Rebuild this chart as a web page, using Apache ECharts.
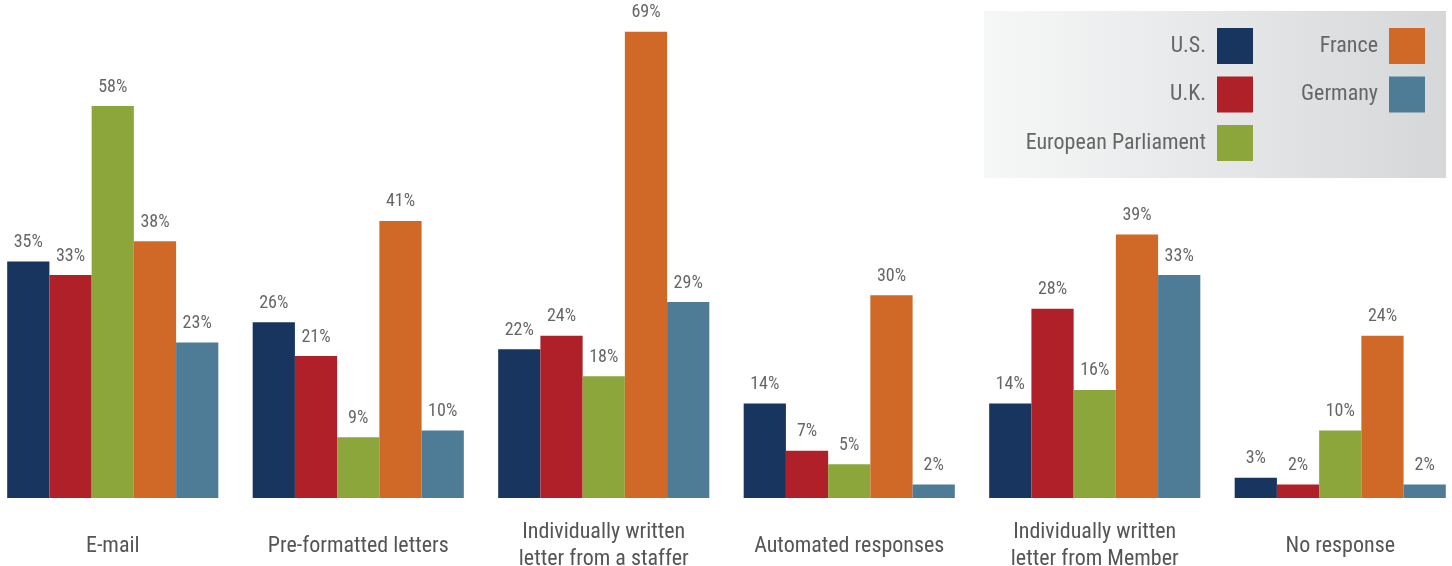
<!DOCTYPE html>
<html><head><meta charset="utf-8">
<script src="https://cdn.jsdelivr.net/npm/echarts@6/dist/echarts.min.js"></script>
<style>html,body{margin:0;padding:0;background:#fff}#c{width:1452px;height:566px}</style>
</head><body><div id="c"></div>
<script>
const categories = ["E-mail","Pre-formatted letters","Individually written\nletter from a staffer","Automated responses","Individually written\nletter from Member","No response"];
const seriesNames = ["U.S.","U.K.","European Parliament","France","Germany"];
const usValues = [35,26,22,14,14,3];
const ukValues = [33,21,24,7,28,2];
const epValues = [58,9,18,5,16,10];
const frValues = [38,41,69,30,39,24];
const deValues = [23,10,29,2,33,2];
const colors = ["#17355f","#b02028","#8ca63b","#d06828","#4e7c97"];
const FONT = "'Liberation Sans Narrow','Roboto Condensed',Roboto,sans-serif";
const allData = [usValues,ukValues,epValues,frValues,deValues];

const chart = echarts.init(document.getElementById('c'));
chart.setOption({
  animation:false,
  textStyle:{fontFamily:FONT},
  graphic:[{type:'rect',left:984,top:11,z:-1,shape:{width:462,height:167},
    style:{fill:new echarts.graphic.LinearGradient(0,0,1,0,[{offset:0,color:'#f6f7f7'},{offset:1,color:'#d6d7d9'}])}}],
  legend:[
    {data:seriesNames.slice(0,3),orient:'vertical',align:'right',right:199,top:28,padding:0,itemWidth:36,itemHeight:36,itemGap:12.5,icon:'rect',
     textStyle:{fontFamily:FONT,fontSize:22,color:'#666',padding:[0,6,0,0]}},
    {data:seriesNames.slice(3),orient:'vertical',align:'right',right:27,top:28,padding:0,itemWidth:36,itemHeight:36,itemGap:12.5,icon:'rect',
     textStyle:{fontFamily:FONT,fontSize:22,color:'#666',padding:[0,6,0,0]}}
  ],
  grid:{left:-10,right:-11,top:25,bottom:68,containLabel:false,outerBoundsMode:'none'},
  xAxis:{type:'category',data:categories,axisLine:{show:false},axisTick:{show:false},
    axisLabel:{fontFamily:FONT,fontSize:22,color:'#555',lineHeight:27,margin:48,verticalAlign:'middle',interval:0}},
  yAxis:{type:'value',min:0,max:70,show:false,splitLine:{show:false}},
  series: seriesNames.map((n,i)=>({
    name:n,type:'bar',data:allData[i],barGap:'0%',barCategoryGap:'14%',
    itemStyle:{color:colors[i]},
    label:{show:true,position:'top',distance:10,formatter:'{c}%',fontFamily:FONT,fontSize:18,color:'#666'}
  }))
});
</script></body></html>
